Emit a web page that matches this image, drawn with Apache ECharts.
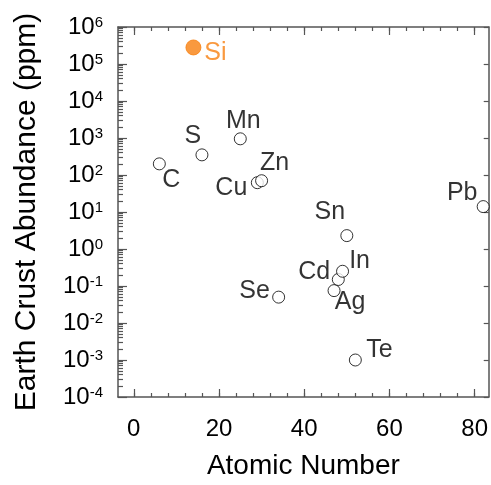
<!DOCTYPE html>
<html>
<head>
<meta charset="utf-8">
<script src="https://cdn.jsdelivr.net/npm/echarts@6/dist/echarts.min.js"></script>
<style>
  html, body { margin: 0; padding: 0; background: #fff; }
  #chart { width: 491px; height: 485px; }
</style>
</head>
<body>
<div id="chart"></div>
<script>
const elements = ['C', 'Si', 'S', 'Mn', 'Cu', 'Zn', 'Se', 'Ag', 'Cd', 'In', 'Sn', 'Te', 'Pb'];
const atomicNumbers = [6, 14, 16, 25, 29, 30, 34, 47, 48, 49, 50, 52, 82];
const abundancePpm = [200, 280000, 350, 950, 62, 70, 0.05, 0.075, 0.15, 0.25, 2.3, 0.001, 14];
const xTicks = [0, 20, 40, 60, 80];
const yExponents = [-4, -3, -2, -1, 0, 1, 2, 3, 4, 5, 6];
const highlighted = 'Si';

// where each name sits relative to its marker (px)
const labelOffsets = {
  C: [12, 16], Si: [22, 6], S: [-9, -19], Mn: [3, -18], Cu: [-26, 5], Zn: [13, -18],
  Se: [-24, -6], Ag: [16, 11], Cd: [-24, -7], In: [17, -10], Sn: [-17, -24],
  Te: [24, -10], Pb: [-21, -13]
};

const font = '"Liberation Sans", Arial, sans-serif';
const axisColor = '#555';
const orange = '#f7800f';

const yMajor = yExponents.map(e => Math.pow(10, e));
const yMinor = [];
for (let e of yExponents.slice(0, -1)) {
  for (let k = 2; k <= 9; k++) yMinor.push(k * Math.pow(10, e));
}
const xMinor = [];
for (let v = 0; v <= 80; v += 4) xMinor.push(v);

function xAxis(pos, ticks, len, withLine, extra) {
  return Object.assign({
    type: 'value', position: pos, min: -3.7, max: 83.3,
    axisLine: {show: withLine, onZero: false, lineStyle: {color: axisColor, width: 1.5}},
    axisTick: {show: true, inside: true, length: len, customValues: ticks,
      lineStyle: {color: axisColor, width: 1.2}},
    axisLabel: {show: false},
    splitLine: {show: false}
  }, extra || {});
}

function yAxis(pos, ticks, len, withLine, extra) {
  return Object.assign({
    type: 'log', logBase: 10, position: pos, min: 1e-4, max: 1e6,
    axisLine: {show: withLine, onZero: false, lineStyle: {color: axisColor, width: 1.5}},
    axisTick: {show: true, inside: true, length: len, customValues: ticks,
      lineStyle: {color: axisColor, width: 1.2}},
    axisLabel: {show: false},
    splitLine: {show: false}
  }, extra || {});
}

const points = elements.map((name, i) => {
  let isHi = name === highlighted;
  return {
    name: name,
    value: [atomicNumbers[i], abundancePpm[i]],
    symbolSize: isHi ? 15 : 12,
    itemStyle: isHi
      ? {color: orange, borderColor: orange, borderWidth: 1}
      : {color: '#fff', borderColor: '#000', borderWidth: 1},
    label: {offset: labelOffsets[name], color: isHi ? orange : '#000'}
  };
});

const chart = echarts.init(document.getElementById('chart'));
chart.setOption({
  animation: false,
  grid: {left: 118, top: 27, right: 0, bottom: 81},
  xAxis: [
    xAxis('bottom', xTicks, 8, true, {
      name: 'Atomic Number', nameLocation: 'middle', nameGap: 55,
      nameTextStyle: {fontFamily: font, fontSize: 28, color: '#000'},
      axisLabel: {show: true, customValues: xTicks, margin: 20, fontFamily: font, fontSize: 24, color: '#000'}
    }),
    xAxis('top', xTicks, 8, true),
    xAxis('bottom', xMinor, 4, false),
    xAxis('top', xMinor, 4, false)
  ],
  yAxis: [
    yAxis('left', yMajor, 9, true, {
      name: 'Earth Crust Abundance (ppm)', nameLocation: 'middle', nameGap: 76,
      nameTextStyle: {fontFamily: font, fontSize: 30, color: '#000'},
      axisLabel: {
        show: true, customValues: yMajor, margin: 15,
        formatter: v => '{b|10}{s|' + Math.round(Math.log10(v)) + '}',
        rich: {
          b: {fontFamily: font, fontSize: 24, color: '#000'},
          s: {fontFamily: font, fontSize: 15, color: '#000', verticalAlign: 'top'}
        }
      }
    }),
    yAxis('right', yMajor, 5, true),
    yAxis('left', yMinor, 5, false)
  ],
  series: [{
    type: 'scatter',
    xAxisIndex: 0,
    yAxisIndex: 0,
    symbol: 'circle',
    data: points,
    label: {
      show: true, position: 'inside', formatter: '{b}',
      fontFamily: font, fontSize: 25, align: 'center', verticalAlign: 'middle'
    },
    emphasis: {disabled: true}
  }]
});
</script>
</body>
</html>
